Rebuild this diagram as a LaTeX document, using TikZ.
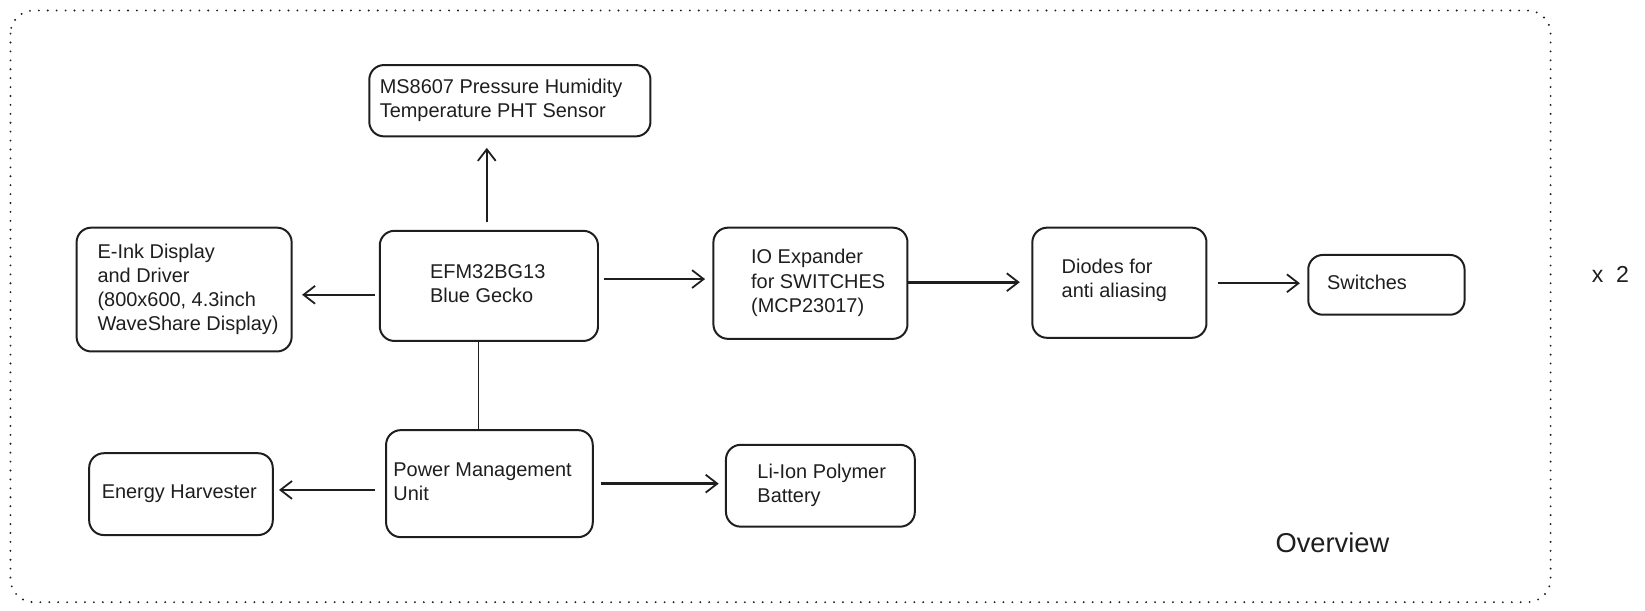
\documentclass[tikz,border=0pt]{standalone}
\usepackage{fontspec}
\setmainfont{Liberation Sans}
\usetikzlibrary{arrows.meta}
\definecolor{ink}{HTML}{1E1E1E}
\newcommand{\btext}[3]{\makebox[#1pt][l]{\hspace*{#2pt}\begin{tabular}{@{}l@{}}#3\end{tabular}}}
\begin{document}
\begin{tikzpicture}[x=1pt,y=-1pt,
  blk/.style={draw=ink, line width=1.9pt, rounded corners=14pt, inner sep=0pt, font=\fontsize{19}{23}\selectfont, text=ink},
  arr/.style={draw=ink, line width=1.7pt, -{Straight Barb[length=11pt,width=17pt,line width=1.7pt]}},
  thick arr/.style={arr, line width=2.6pt},
  link/.style={draw=ink, line width=1.5pt},
  note/.style={text=ink, inner sep=0pt},
]
\useasboundingbox (0,0) rectangle (1568,582);
\draw[ink, line width=2pt, dash pattern=on 0pt off 8.5pt, line cap=round, rounded corners=22pt] (10,10) rectangle (1478,574);

\node[blk, minimum width=268pt, minimum height=68pt] (ms) at (486,96) {\btext{268}{10}{MS8607 Pressure Humidity\\Temperature PHT Sensor}};
\node[blk, minimum width=205pt, minimum height=118pt] (eink) at (175.5,276) {\btext{205}{20}{E-Ink Display\\and Driver\\(800x600, 4.3inch\\WaveShare Display)}};
\node[blk, minimum width=208pt, minimum height=105pt] (efm) at (466,272.5) {\btext{208}{48}{EFM32BG13\\Blue Gecko}};
\node[blk, minimum width=185pt, minimum height=106pt] (io) at (772.5,270) {\btext{185}{36}{IO Expander\\for SWITCHES\\(MCP23017)}};
\node[blk, minimum width=166pt, minimum height=105pt] (diodes) at (1067,269.5) {\btext{166}{28}{Diodes for\\anti aliasing\\[4pt]}};
\node[blk, minimum width=149pt, minimum height=57pt] (sw) at (1321.5,271.5) {\btext{149}{18}{Switches}};
\node[blk, minimum width=197pt, minimum height=102pt] (pmu) at (466.5,461) {\btext{197}{7}{Power Management\\Unit}};
\node[blk, minimum width=175pt, minimum height=78pt] (eh) at (172.5,471) {\btext{175}{12}{Energy Harvester}};
\node[blk, minimum width=180pt, minimum height=78pt] (li) at (782,463) {\btext{180}{30}{Li-Ion Polymer\\Battery}};

\node[note, font=\fontsize{26}{30}\selectfont] (ov) at (1270,517) {Overview};
\node[note, font=\fontsize{22}{26}\selectfont] (x2) at (1535,262) {x\ \ 2};

\draw[arr, shorten <=7pt, shorten >=10pt] ([xshift=-2pt]efm.north) -- ([xshift=-22pt]ms.south);
\draw[arr, shorten <=4pt, shorten >=9pt] ([yshift=-8.5pt]efm.west) -- ([yshift=-5pt]eink.east);
\draw[arr, line width=1.5pt, shorten <=5pt, shorten >=7pt] ([yshift=6.5pt]efm.east) -- ([yshift=4pt]io.west);
\draw[thick arr, shorten >=11pt] ([yshift=1pt]io.east) -- ([yshift=0.5pt]diodes.west);
\draw[arr, shorten <=10pt, shorten >=7pt] ([yshift=-0.5pt]diodes.east) -- ([yshift=1.5pt]sw.west);
\draw[link] ([xshift=-10.5pt]pmu.north) -- ([xshift=-10pt]efm.south);
\draw[arr, shorten <=10pt, shorten >=5pt] ([yshift=-6pt]pmu.west) -- ([yshift=4pt]eh.east);
\draw[thick arr, shorten <=7pt, shorten >=6pt] (pmu.east) -- ([yshift=2pt]li.west);
\end{tikzpicture}
\end{document}
